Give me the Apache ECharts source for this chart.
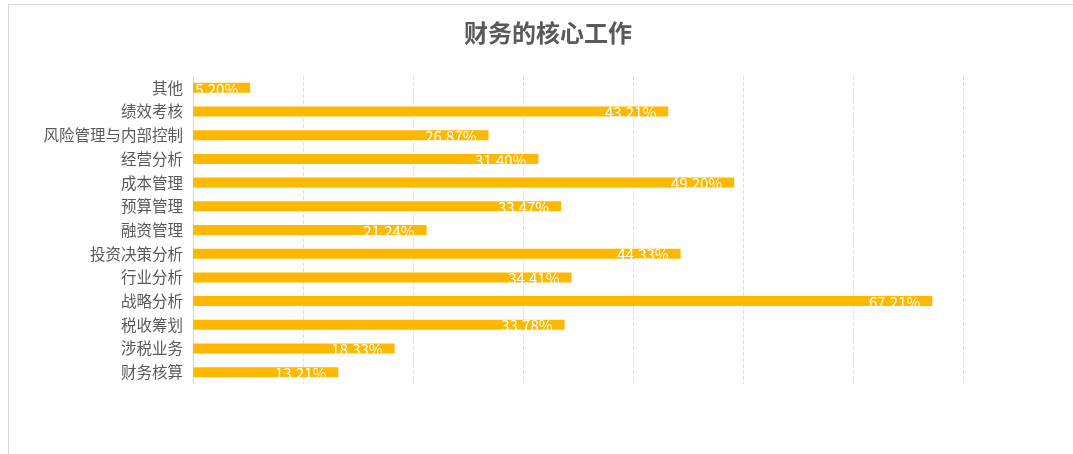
<!DOCTYPE html>
<html>
<head>
<meta charset="utf-8">
<script src="https://cdn.jsdelivr.net/npm/echarts@6/dist/echarts.min.js"></script>
<style>
  html, body { margin: 0; padding: 0; background: #fff; }
  #chart { width: 1073px; height: 454px; }
  .frame {
    position: absolute; left: 8px; top: 4px; right: 0; bottom: 0;
    border-left: 1px solid #d9d9d9; border-top: 1px solid #d9d9d9;
    pointer-events: none;
  }
</style>
</head>
<body>
<div id="chart"></div>
<div class="frame"></div>
<script>
// bottom to top, as on the category axis
const categories = [
  "财务核算", "涉税业务", "税收筹划", "战略分析", "行业分析", "投资决策分析",
  "融资管理", "预算管理", "成本管理", "经营分析", "风险管理与内部控制", "绩效考核", "其他"
];
const shares = [13.21, 18.33, 33.78, 67.21, 34.41, 44.33, 21.24, 33.47, 49.20, 31.40, 26.87, 43.21, 5.20];

const chart = echarts.init(document.getElementById("chart"));
window.addEventListener("resize", () => {
  chart.resize();
});

chart.setOption({
  animation: false,
  title: {
    text: "财务的核心工作",
    left: 459,
    top: 16,
    textStyle: {
      color: "#595959",
      fontSize: 24,
      fontWeight: "bold",
      fontFamily: "Noto Sans CJK SC",
    },
  },
  grid: {
    left: 193,
    right: 0,
    top: 76,
    bottom: 70,
  },
  xAxis: {
    type: "value",
    min: 0,
    max: 80,
    interval: 10,
    axisLabel: { show: false },
    axisLine: { show: false },
    axisTick: { show: false },
    splitLine: {
      show: true,
      lineStyle: {
        type: "dashed",
        color: "#e0e0e0",
      },
    },
  },
  yAxis: {
    type: "category",
    data: categories,
    axisTick: { show: false },
    axisLine: {
      show: true,
      lineStyle: { color: "#d9d9d9" },
    },
    axisLabel: {
      color: "#595959",
      fontSize: 15.5,
      margin: 10,
      fontFamily: "Noto Sans CJK SC",
    },
  },
  series: [
    {
      type: "bar",
      data: shares,
      barWidth: 10,
      itemStyle: { color: "#FFB800" },
      label: {
        show: true,
        position: "insideRight",
        distance: 12,
        offset: [0, 1],
        color: "#fff",
        fontSize: 15,
        fontFamily: "Noto Sans CJK SC",
        formatter: (p) => p.value.toFixed(2) + "%",
      },
    },
  ],
});
</script>
</body>
</html>
